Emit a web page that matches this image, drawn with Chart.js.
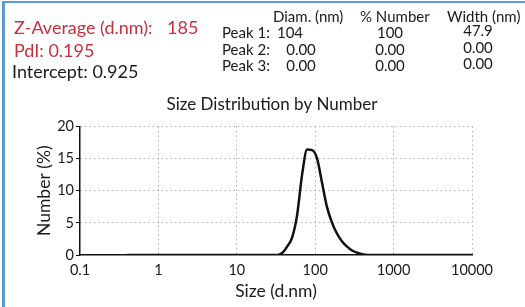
<!DOCTYPE html>
<html>
<head>
<meta charset="utf-8">
<script src="https://cdn.jsdelivr.net/npm/chart.js@4.4.1/dist/chart.umd.min.js"></script>
<style>
  html, body { margin: 0; padding: 0; background: #fff; }
  #wrap { position: relative; width: 525px; height: 307px; overflow: hidden; font-family: Lato, "Liberation Sans", sans-serif; color: #1a1a1a; }
  #frame { position: absolute; left: 2px; top: 1px; width: 530px; height: 310px; border-left: 3px solid #5b9bd5; border-top: 2px solid #5b9bd5; box-sizing: border-box; }
  #chart { position: absolute; left: 0; top: 0; }
  .t { position: absolute; white-space: nowrap; line-height: 1; }
  .red { color: #cc2f3c; }
  .big { font-size: 18px; }
  .sm { font-size: 15px; }
  .c { transform: translateX(-50%); }
</style>
</head>
<body>
<div id="wrap">
  <canvas id="chart" width="525" height="307"></canvas>
  <div id="frame"></div>
  <div id="info"></div>
</div>
<script>
'use strict';

// size bins (d.nm) and number distribution (%)
var sizes = [0.4, 10, 32.67, 37.84, 43.82, 50.75, 58.77, 68.06, 78.82, 91.28, 105.7, 122.4, 141.8, 164.2, 190.1, 220.2, 255, 295.3, 342, 396.1, 458.7, 1000, 10000];
var numbers = [0, 0, 0, 0.3, 1.3, 2.7, 6.2, 12.5, 16.4, 16.3, 15.0, 11.2, 7.4, 5.0, 3.3, 2.1, 1.3, 0.7, 0.35, 0.12, 0, 0, 0];

var xTicks = [0.1, 1, 10, 100, 1000, 10000];
var yTicks = [0, 5, 10, 15, 20];

var summaryLabels = ['Z-Average (d.nm):', 'PdI:', 'Intercept:'];
var summaryValues = ['185', '0.195', '0.925'];
var tableHeads = ['Diam. (nm)', '% Number', 'Width (nm)'];
var peakNames = ['Peak 1:', 'Peak 2:', 'Peak 3:'];
var peakDiam = ['104', '0.00', '0.00'];
var peakNumber = ['100', '0.00', '0.00'];
var peakWidth = ['47.9', '0.00', '0.00'];

// header block (plain text above the chart)
var info = document.getElementById('info');
function addText(txt, x, y, cls) {
   var d = document.createElement('div');
   d.className = 't ' + cls;
   d.textContent = txt;
   d.style.left = x + 'px';
   d.style.top = y + 'px';
   info.appendChild(d);
}
addText(summaryLabels[0], 14, 18, 'big red');
addText(summaryValues[0], 167, 18, 'big red');
addText(summaryLabels[1] + '  ' + summaryValues[1], 14, 41, 'big red');
addText(summaryLabels[2] + '  ' + summaryValues[2], 12, 62, 'big');

var headX = [273, 360, 447];
tableHeads.forEach(function (h, i) { addText(h, headX[i], 9, 'sm'); });
var rowY = [25, 42, 58];
var colX = [290, 390, 478];
peakNames.forEach(function (p, i) {
   addText(p, 222, rowY[i], 'sm');
   addText(peakDiam[i], colX[0] + (i ? 11 : 0), rowY[i], 'sm c');
   addText(peakNumber[i], colX[1], rowY[i], 'sm c');
   addText(peakWidth[i], colX[2], rowY[i] - 2, 'sm c');
});

var points = sizes.map(function (s, i) { return { x: s, y: numbers[i] }; });

var fontFam = 'Lato, "Liberation Sans", sans-serif';
var gridDash = [1.5, 3];
var config = {
   type: 'line',
   data: {
      datasets: [{
         data: points,
         borderColor: '#111',
         borderWidth: 2.5,
         pointRadius: 0,
         cubicInterpolationMode: 'monotone',
         fill: false
      }]
   },
   options: {
      responsive: false,
      animation: false,
      layout: { padding: { left: 30, right: 11, top: 88, bottom: 4 } },
      plugins: {
         legend: { display: false },
         tooltip: { enabled: false },
         title: {
            display: true,
            text: 'Size Distribution by Number',
            color: '#1a1a1a',
            font: { family: fontFam, size: 17, weight: 'normal' },
            padding: { top: 6, bottom: 12 }
         }
      },
      scales: {
         x: {
            type: 'logarithmic',
            min: 0.1,
            max: 10000,
            afterBuildTicks: function (scale) {
               scale.ticks = xTicks.map(function (v) { return { value: v }; });
            },
            afterFit: function (scale) {
               scale.height = 48;
               scale.paddingRight = 53;
            },
            ticks: {
               color: '#1a1a1a',
               font: { family: fontFam, size: 14.5 },
               padding: 7,
               maxRotation: 0,
               autoSkip: false,
               callback: function (v) { return String(v); }
            },
            grid: {
               color: function (ctx) { return ctx.index === 0 ? 'rgba(0,0,0,0)' : '#b0b0b0'; },
               drawTicks: false
            },
            border: { display: true, color: '#111', width: 1.5, dash: gridDash },
            title: {
               display: true,
               text: 'Size (d.nm)',
               color: '#1a1a1a',
               font: { family: fontFam, size: 17.5 },
               padding: { top: 2, bottom: 1 }
            }
         },
         y: {
            min: 0,
            max: 20,
            afterBuildTicks: function (scale) {
               var t = [];
               for (var v = 0; v <= 20; v += 2.5) t.push({ value: v });
               scale.ticks = t;
            },
            afterFit: function (scale) { scale.width = 50; },
            ticks: {
               color: '#1a1a1a',
               font: { family: fontFam, size: 14.5 },
               padding: 2,
               callback: function (v) { return yTicks.indexOf(v) >= 0 ? String(v) : ''; }
            },
            grid: {
               color: function (ctx) {
                  var v = ctx.tick ? ctx.tick.value : 0;
                  return (v > 0 && v % 5 === 0) ? '#b0b0b0' : 'rgba(0,0,0,0)';
               },
               tickColor: '#111',
               tickLength: 4
            },
            border: { display: true, color: '#111', width: 1.5, dash: gridDash },
            title: {
               display: true,
               text: 'Number (%)',
               color: '#1a1a1a',
               font: { family: fontFam, size: 17.5 },
               padding: { top: 4, bottom: 2 }
            }
         }
      }
   }
};

window.myChart = new Chart(document.getElementById('chart').getContext('2d'), config);
</script>
</body>
</html>
